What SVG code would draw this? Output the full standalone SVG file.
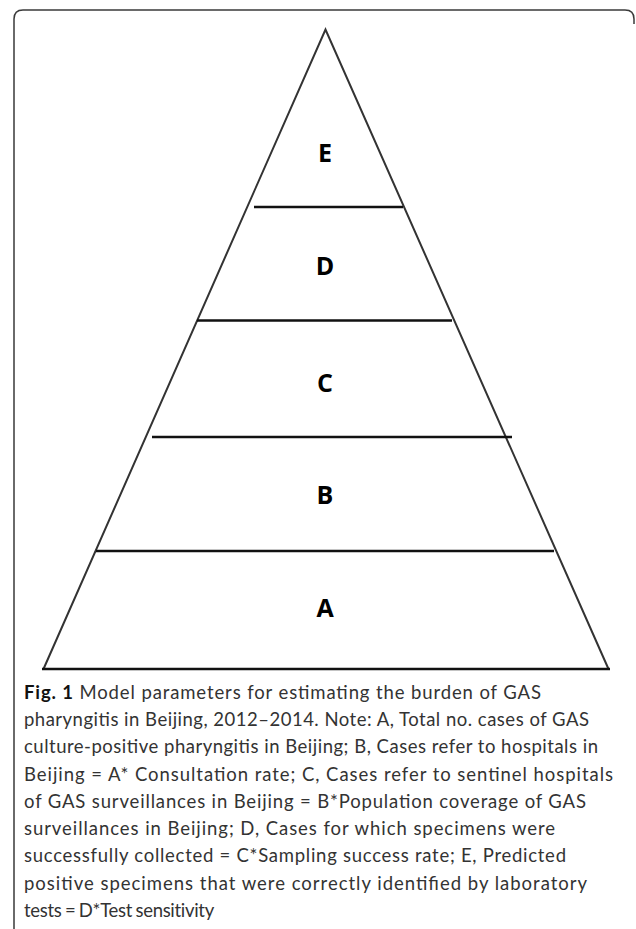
<svg xmlns="http://www.w3.org/2000/svg" width="636" height="929" viewBox="0 0 636 929">
<style>
.frame{fill:none;stroke:#3a3a3a;stroke-width:1.5}
.side{fill:none;stroke:#333;stroke-width:2}
.tier{stroke:#111;stroke-width:2.5;fill:none}
.lbl{font-family:"Open Sans","DejaVu Sans",sans-serif;font-weight:bold;font-size:25px;fill:#000;text-anchor:middle}
.cap{font-family:Lato,"Open Sans",sans-serif;font-size:18.5px;fill:#333}
.capb{font-weight:bold;fill:#111}
.tight{letter-spacing:-0.3px;word-spacing:-1px}
</style>
<rect width="636" height="929" fill="#fff"/>
<path class="frame" d="M14,929 V19 Q14,10 23,10 H625 Q634,10 634,19 V24"/>
<g id="connectors">
<path class="side" d="M43.5,669 L325.5,29.5 L608.5,669"/>
<line class="tier" x1="42" y1="669" x2="610" y2="669"/>
<line class="tier" x1="254" y1="207" x2="403" y2="207"/>
<line class="tier" x1="197" y1="320.5" x2="452" y2="320.5"/>
<line class="tier" x1="152" y1="437" x2="512" y2="437"/>
<line class="tier" x1="96" y1="551" x2="554" y2="551"/>
</g>
<g id="E"><text class="lbl" x="325" y="162">E</text></g>
<g id="D"><text class="lbl" x="325" y="275">D</text></g>
<g id="C"><text class="lbl" x="325" y="392">C</text></g>
<g id="B"><text class="lbl" x="325" y="504">B</text></g>
<g id="A"><text class="lbl" x="325" y="617">A</text></g>
<g id="caption">
<text class="cap" x="24" y="699" textLength="517" lengthAdjust="spacing"><tspan class="capb">Fig. 1</tspan> Model parameters for estimating the burden of GAS</text>
<text class="cap" x="24" y="726" textLength="565" lengthAdjust="spacing">pharyngitis in Beijing, 2012–2014. Note: A, Total no. cases of GAS</text>
<text class="cap" x="24" y="753" textLength="574" lengthAdjust="spacing">culture-positive pharyngitis in Beijing; B, Cases refer to hospitals in</text>
<text class="cap" x="24" y="780.5" textLength="589" lengthAdjust="spacing">Beijing = A* Consultation rate; C, Cases refer to sentinel hospitals</text>
<text class="cap" x="24" y="808" textLength="562" lengthAdjust="spacing">of GAS surveillances in Beijing = B*Population coverage of GAS</text>
<text class="cap" x="24" y="835" textLength="531" lengthAdjust="spacing">surveillances in Beijing; D, Cases for which specimens were</text>
<text class="cap" x="24" y="862" textLength="542" lengthAdjust="spacing">successfully collected = C*Sampling success rate; E, Predicted</text>
<text class="cap" x="24" y="889.5" textLength="563" lengthAdjust="spacing">positive specimens that were correctly identified by laboratory</text>
<text class="cap tight" x="24" y="916.5">tests = D*Test sensitivity</text>
</g>
</svg>
